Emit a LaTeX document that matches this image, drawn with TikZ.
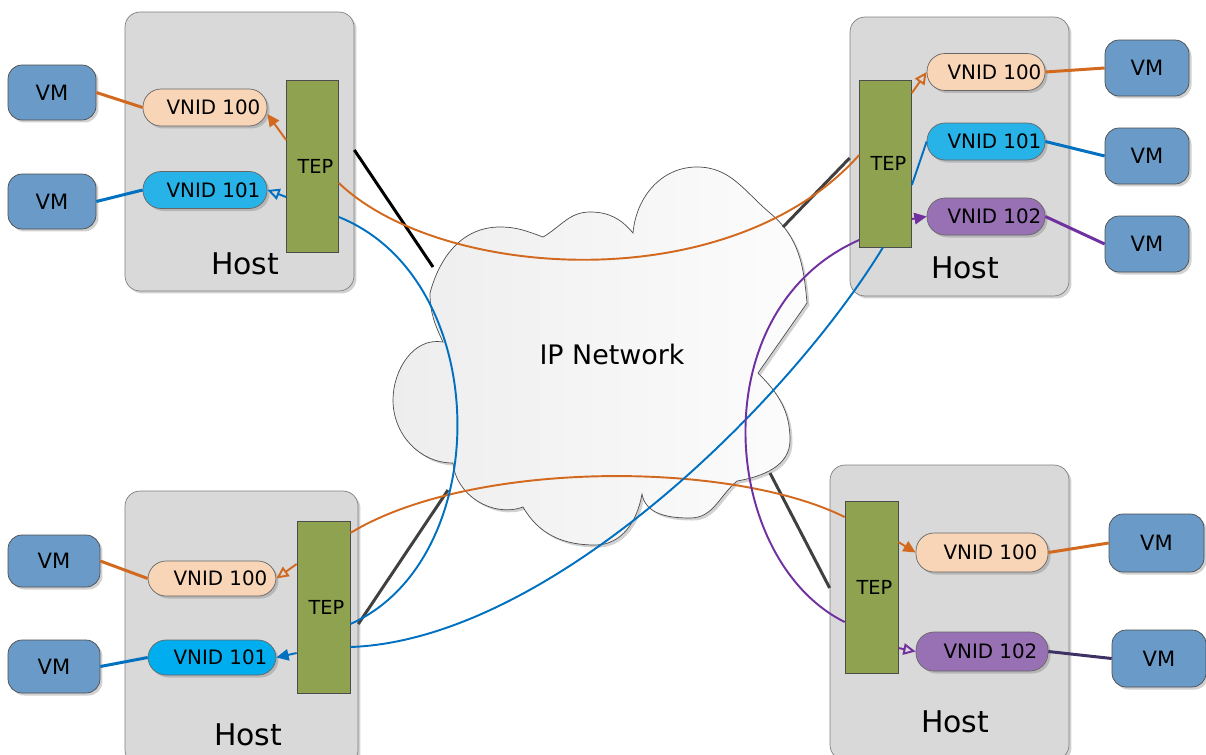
\documentclass[tikz,border=0pt]{standalone}
\usepackage{fontspec}
\setmainfont{DejaVu Sans}
\usetikzlibrary{arrows.meta}
\usetikzlibrary{shadows}

\definecolor{hostgray}{HTML}{D9D9D9}
\definecolor{hostdraw}{HTML}{808080}
\definecolor{tepgreen}{HTML}{8FA24F}
\definecolor{peach}{HTML}{F8D5B6}
\definecolor{sky}{HTML}{27B2E8}
\definecolor{skybright}{HTML}{00AEEF}
\definecolor{lavender}{HTML}{9870B4}
\definecolor{vmblue}{HTML}{6A9BC8}
\definecolor{lineorange}{HTML}{D2691E}
\definecolor{lineblue}{HTML}{0070C0}
\definecolor{linepurple}{HTML}{7030A0}
\definecolor{darkpurple}{HTML}{3F3163}

\tikzset{
  softshadow/.style={drop shadow={shadow xshift=0.05cm, shadow yshift=-0.05cm, opacity=0.3, fill=black!60}},
  host/.style={draw=hostdraw, fill=hostgray, rounded corners=0.3cm, softshadow},
  hostlbl/.style={font=\fontsize{17}{20}\selectfont},
  tep/.style={draw=black!70, fill=tepgreen, minimum width=1.04cm, minimum height=3.44cm, inner sep=0pt, font=\fontsize{11}{13}\selectfont, execute at begin node={\hspace*{0.12cm}}},
  vnid/.style={draw=black!60, rounded corners=0.36cm, minimum width=2.48cm, minimum height=0.74cm, inner sep=0pt, font=\fontsize{11.3}{13}\selectfont, execute at begin node={\hspace*{0.34cm}}, softshadow},
  vm/.style={draw=black!70, fill=vmblue, rounded corners=0.28cm, minimum width=1.76cm, minimum height=1.1cm, inner sep=0pt, font=\fontsize{12}{14}\selectfont, softshadow},
  uplink/.style={line width=1.7pt},
  tunnel/.style={line width=1.1pt},
  fillhead/.style={-{Triangle[length=7pt,width=6.5pt]}},
  openhead/.style={-{Triangle[open,length=7pt,width=6.5pt]}}
}

\begin{document}
\begin{tikzpicture}[x=0.02cm, y=-0.02cm]
  \useasboundingbox (0,0) rectangle (1206,754);

  % hosts
  \node[host, minimum width=4.58cm, minimum height=5.58cm] (hostTL) at (239.5,151.5) {};
  \node[host, minimum width=4.38cm, minimum height=5.58cm] (hostTR) at (959.5,156.5) {};
  \node[host, minimum width=4.66cm, minimum height=5.48cm] (hostBL) at (241.5,628) {};
  \node[host, minimum width=4.78cm, minimum height=5.9cm] (hostBR) at (949.5,612.5) {};
  \node[hostlbl] (lblTL) at (245,264) {Host};
  \node[hostlbl] (lblTR) at (965,268) {Host};
  \node[hostlbl] (lblBL) at (248,735) {Host};
  \node[hostlbl] (lblBR) at (955,722) {Host};

  % the network cloud
  \draw[draw=black!70, left color=black!7, right color=black!1, softshadow]
    (443,342) to[out=170,in=90] (393,400) to[out=-90,in=180] (453,463)
    to[out=-85,in=200] (523,507)
    to[out=-60,in=180] (595,545) to[out=0,in=-100] (642,494)
    to[out=-80,in=180] (690,518) to[out=0,in=-140] (737,481)
    to[out=10,in=-90] (790,440) to[out=90,in=-45] (758,373)
    -- (807,303) to[out=95,in=-40] (770,213) to[out=140,in=0] (697,167)
    to[out=180,in=85] (633,233)
    to[out=130,in=0] (590,212) to[out=180,in=30] (543,237)
    to[out=160,in=0] (500,227) to[out=180,in=75] (430,293)
    to[out=-90,in=115] cycle;
  \node[font=\fontsize{15.3}{18}\selectfont] (net) at (612,354) {IP Network};
  \coordinate (cloudNW) at (433,267);
  \coordinate (cloudNE) at (783,227);
  \coordinate (cloudSW) at (448,490);
  \coordinate (cloudSE) at (770,473);

  % tunnel end points
  \node[tep] (tepTL) at (312.5,166) {TEP};
  \node[tep, minimum height=3.34cm] (tepTR) at (885.5,163.5) {TEP};
  \node[tep, minimum width=1.06cm] (tepBL) at (323.5,607) {TEP};
  \node[tep, minimum width=1.06cm] (tepBR) at (871.5,587) {TEP};

  % virtual networks
  \node[vnid, fill=peach] (tla) at (205,107.5) {VNID 100};
  \node[vnid, fill=sky] (tlb) at (205,190) {VNID 101};
  \node[vnid, fill=peach, minimum width=2.36cm] (tra) at (986,72) {VNID 100};
  \node[vnid, fill=sky, minimum width=2.36cm] (trb) at (986,141.5) {VNID 101};
  \node[vnid, fill=lavender, minimum width=2.36cm] (trc) at (986,216.5) {VNID 102};
  \node[vnid, fill=peach, minimum width=2.56cm, minimum height=0.7cm] (bla) at (212,578.5) {VNID 100};
  \node[vnid, fill=skybright, minimum width=2.56cm, minimum height=0.7cm] (blb) at (212,657.5) {VNID 101};
  \node[vnid, fill=peach, minimum width=2.64cm, minimum height=0.78cm] (bra) at (982,552.5) {VNID 100};
  \node[vnid, fill=lavender, minimum width=2.64cm, minimum height=0.78cm] (brc) at (982,651.5) {VNID 102};

  % virtual machines
  \node[vm] (vmTL1) at (52,92.5) {VM};
  \node[vm] (vmTL2) at (52,201.5) {VM};
  \node[vm, minimum width=1.68cm, minimum height=1.12cm] (vmTR1) at (1147,68) {VM};
  \node[vm, minimum width=1.68cm, minimum height=1.12cm] (vmTR2) at (1147,156) {VM};
  \node[vm, minimum width=1.68cm, minimum height=1.12cm] (vmTR3) at (1147,244) {VM};
  \node[vm, minimum width=1.84cm, minimum height=1.04cm] (vmBL1) at (54,561) {VM};
  \node[vm, minimum width=1.84cm, minimum height=1.06cm] (vmBL2) at (54,666.5) {VM};
  \node[vm, minimum width=1.9cm, minimum height=1.16cm] (vmBR1) at (1156.5,543) {VM};
  \node[vm, minimum width=1.88cm, minimum height=1.14cm] (vmBR2) at (1159,658.5) {VM};

  % host to cloud
  \draw[uplink, black] (hostTL.east |- 0,150) -- (cloudNW);
  \draw[uplink, black!75] (hostTR.west |- 0,158) -- (cloudNE);
  \draw[uplink, black!75] (hostBL.east |- 0,624) -- (cloudSW);
  \draw[uplink, black!75] (hostBR.west |- 0,588) -- (cloudSE);

  % tunnels across the network
  \draw[tunnel, lineorange] (tepTL.east |- 0,183) .. controls (440,280) and (730,300) .. (tepTR.west |- 0,155);
  \draw[tunnel, lineorange] (tepBL.east |- 0,533) .. controls (470,460) and (730,460) .. (tepBR.west |- 0,517);
  \draw[tunnel, lineblue] (tepTL.east |- 0,217) .. controls (495,280) and (495,560) .. (tepBL.east |- 0,624);
  \draw[tunnel, lineblue] (tepBL.east |- 0,647) .. controls (550,640) and (790,400) .. (tepTR.south -| 883,0);
  \draw[tunnel, linepurple] (tepTR.west |- 0,240) .. controls (700,310) and (720,560) .. (tepBR.west |- 0,622);

  % tep to vnid
  \draw[tunnel, lineorange, fillhead] (tepTL.west |- 0,140) -- (tla.east |- 0,114);
  \draw[tunnel, lineblue, openhead] (tepTL.west |- 0,197) -- (tlb.east |- 0,190);
  \draw[tunnel, lineorange, openhead] (tepTR.east |- 0,93) -- (tra.west);
  \draw[tunnel, lineblue] (tepTR.east |- 0,185) -- (trb.west);
  \draw[tunnel, linepurple, fillhead] (tepTR.east |- 0,219) -- (trc.west);
  \draw[tunnel, lineorange, openhead] (tepBL.west |- 0,564) -- (bla.east);
  \draw[tunnel, lineblue, fillhead] (tepBL.west |- 0,653) -- (blb.east);
  \draw[tunnel, lineorange, fillhead] (tepBR.east |- 0,542) -- (bra.west);
  \draw[tunnel, linepurple, openhead] (tepBR.east |- 0,648) -- (brc.west);

  % vm to vnid
  \draw[uplink, lineorange] (vmTL1.east) -- (tla.west);
  \draw[uplink, lineblue] (vmTL2.east) -- (tlb.west);
  \draw[uplink, lineorange] (tra.east) -- (vmTR1.west);
  \draw[uplink, lineblue] (trb.east) -- (vmTR2.west);
  \draw[uplink, linepurple] (trc.east) -- (vmTR3.west);
  \draw[uplink, lineorange] (vmBL1.east) -- (bla.west);
  \draw[uplink, lineblue] (vmBL2.east) -- (blb.west);
  \draw[uplink, lineorange] (bra.east) -- (vmBR1.west);
  \draw[uplink, darkpurple] (brc.east) -- (vmBR2.west);
\end{tikzpicture}
\end{document}
